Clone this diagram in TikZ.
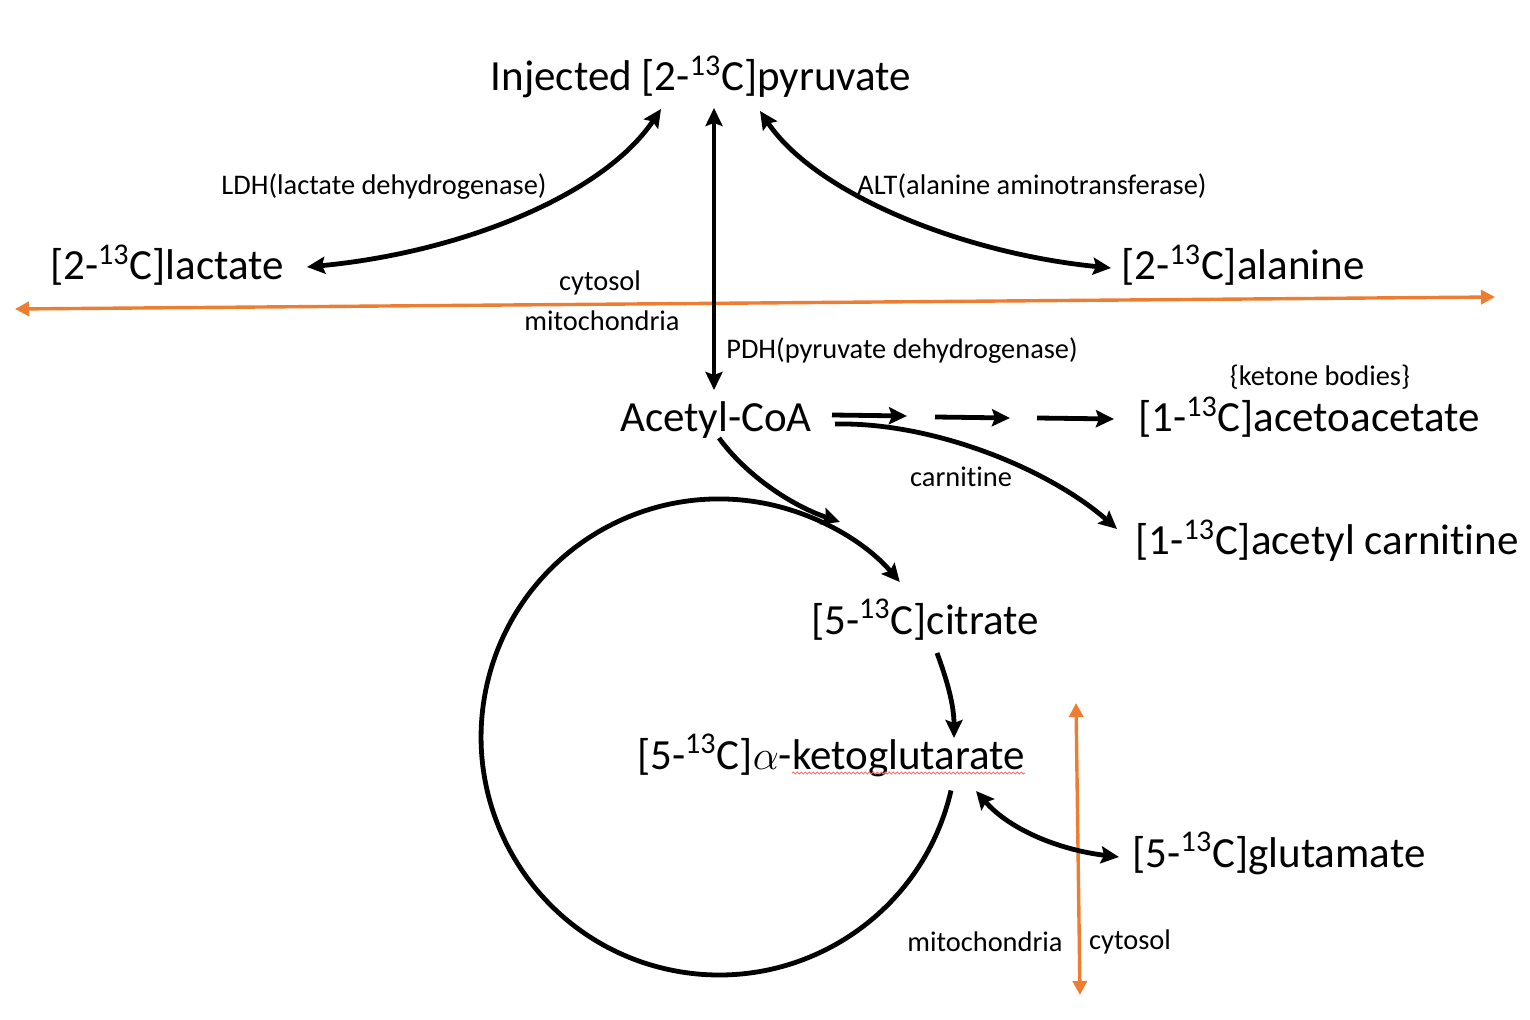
\documentclass[tikz,border=0pt]{standalone}
\usepackage{fontspec}
\setmainfont[Ligatures=NoCommon]{Carlito}
\usetikzlibrary{arrows.meta,decorations.pathmorphing}
\definecolor{orng}{RGB}{237,125,49}
\newcommand\ctt{\textsuperscript{13}}
\begin{document}
\begin{tikzpicture}[x=0.5pt,y=-0.5pt,
  big/.style={font=\fontsize{21.5}{24}\selectfont, inner sep=0pt, anchor=base},
  small/.style={font=\fontsize{14.2}{16}\selectfont, inner sep=0pt, anchor=base},
  conn/.style={line width=2.4pt, -{Stealth[length=9pt,width=8.5pt,inset=1.5pt]}},
  biconn/.style={line width=2.4pt, {Stealth[length=9pt,width=8.5pt,inset=1.5pt]}-{Stealth[length=9pt,width=8.5pt,inset=1.5pt]}},
  membrane/.style={orng, line width=1.7pt, {Triangle[length=7pt,width=7pt]}-{Triangle[length=7pt,width=7pt]}}]
\path[use as bounding box, fill=white] (0,0) rectangle (1530,1020);

% texts
\node[big] (pyr) at (701,91) {Injected [2-\ctt C]pyruvate};
\node[big] (lac) at (167,280) {[2-\ctt C]lactate};
\node[big] (ala) at (1243,280) {[2-\ctt C]alanine};
\node[small] (ldh) at (384,195) {LDH(lactate dehydrogenase)};
\node[small] (alt) at (1032,195) {ALT(alanine aminotransferase)};
\node[small] (cyt1) at (600,291) {cytosol};
\node[small] (mit1) at (602,331) {mitochondria};
\node[small] (pdh) at (902,359) {PDH(pyruvate dehydrogenase)};
\node[small] (ket) at (1320,386) {\{ketone bodies\}};
\node[big] (acoa) at (716,432) {Acetyl-CoA};
\node[big] (aca) at (1309,432) {[1-\ctt C]acetoacetate};
\node[small] (carn) at (961,487) {carnitine};
\node[big] (acar) at (1327,555) {[1-\ctt C]acetyl carnitine};
\node[big] (cit) at (925,634) {[5-\ctt C]citrate};
\node[big] (akg) at (831,769) {[5-\ctt C]$\alpha$-ketoglutarate};
\node[big] (glu) at (1279,867) {[5-\ctt C]glutamate};
\node[small] (mit2) at (985,951) {mitochondria};
\node[small] (cyt2) at (1130,949) {cytosol};

% spell-check squiggle
\draw[red!55, line width=0.5pt, decorate, decoration={snake, amplitude=0.5pt, segment length=2pt}] (792,773) -- (1025,773);

% coordinates
\coordinate (pyrS) at (714,108);
\coordinate (acoaN) at (714,390);
\coordinate (pyrL) at (661,109);
\coordinate (lacE) at (307,267);
\coordinate (pyrR) at (760,111);
\coordinate (alaW) at (1111,268);
\coordinate (a1) at (832,415); \coordinate (a2) at (907,416);
\coordinate (b1) at (935,417); \coordinate (b2) at (1010,418);
\coordinate (c1) at (1037,418); \coordinate (c2) at (1114,419);
\coordinate (acoaE) at (835,424);
\coordinate (acarW) at (1117,529);
\coordinate (acoaS) at (719,438);
\coordinate (citNW) at (840,522);
\coordinate (arcS) at (951,790.5);
\coordinate (citS) at (937,653);
\coordinate (akgN) at (954,738);
\coordinate (akgE) at (976,791);
\coordinate (gluW) at (1119,857);
\coordinate (memL) at (15,309);
\coordinate (memR) at (1495,297);
\coordinate (memT) at (1076,703);
\coordinate (memB) at (1080,995);

% membranes
\draw[membrane] (memL) -- (memR);
\draw[membrane] (memT) -- (memB);

% connectors
\draw[biconn] (pyrS) -- (acoaN);
\draw[biconn] (lacE) .. controls (457,253) and (602,197) .. (pyrL);
\draw[biconn] (pyrR) .. controls (815,193) and (960,253) .. (alaW);
\draw[conn] (a1) -- (a2);
\draw[conn] (b1) -- (b2);
\draw[conn] (c1) -- (c2);
\draw[conn] (acoaE) .. controls (935,422) and (1050,470) .. (acarW);
\draw[conn] (acoaS) .. controls (745,474) and (790,505) .. (citNW);
\draw[conn] (arcS) arc[start angle=13, end angle=319.4, radius=238];
\draw[conn] (citS) .. controls (947,680) and (954,705) .. (akgN);
\draw[biconn] (akgE) .. controls (1010,830) and (1060,850) .. (gluW);
\end{tikzpicture}
\end{document}
